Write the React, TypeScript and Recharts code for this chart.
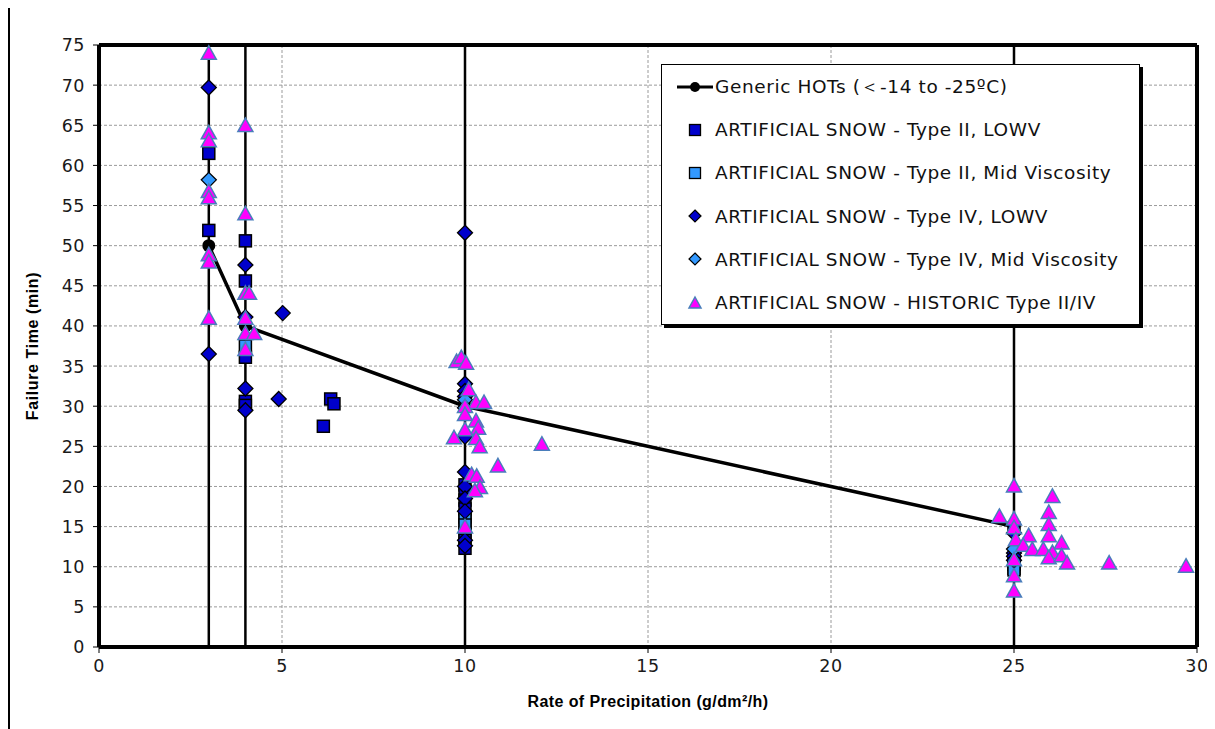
import { ScatterChart, Scatter, XAxis, YAxis, CartesianGrid, ReferenceLine } from "recharts";

// axis ticks and the fixed precipitation rates (heavy vertical lines)
const xTicks = [0, 5, 10, 15, 20, 25, 30];
const yTicks = [0, 5, 10, 15, 20, 25, 30, 35, 40, 45, 50, 55, 60, 65, 70, 75];
const rateLines = [3, 4, 10, 25];

// [rate g/dm²/h, failure time min]
const genericHots: [number, number][] = [
  [3, 50], [4, 40], [10, 30], [25, 15],
];

const typeIILowv: [number, number][] = [
  [3, 61.5], [3, 51.9], [4, 50.6], [4, 45.6], [4, 36.1], [4, 30.6], [4, 30.1],
  [6.13, 27.5], [6.33, 30.9], [6.42, 30.3],
  [10, 20.2], [10, 19.2], [10, 18.3], [10, 17.2], [10, 15.8], [10, 14.2], [10, 13.3], [10, 12.3],
  [25, 14.8], [25, 11], [25, 10.3], [25, 9.8],
];

const typeIIMid: [number, number][] = [
  [4, 37.5], [10, 16.2], [10, 15.2], [25, 9.6],
];

const typeIVLowv: [number, number][] = [
  [3, 69.7], [3, 36.5], [4, 47.6], [4, 41.1], [4, 32.2], [4, 29.5], [4.91, 30.9], [5.02, 41.6],
  [10, 51.6], [10, 32.8], [10, 31.9], [10, 31.2], [10, 26.2], [10, 21.8], [10, 20], [10, 18.5],
  [10, 16.9], [10, 13.3], [10, 12.6],
  [25, 14.2], [25, 11.7], [25, 11.3], [25, 10.8],
];

const typeIVMid: [number, number][] = [
  [3, 58.2], [10, 30.8], [10, 29.8], [25, 12.2],
];

const historic: [number, number][] = [
  [3, 73.9], [3, 64], [3, 63], [3, 56.7], [3, 55.9], [3, 48.8], [3, 47.9], [3, 40.9],
  [4, 64.9], [4, 53.9], [4, 44], [4.1, 44], [4, 40.9], [4, 39], [4.24, 39], [4, 37],
  [9.77, 35.5], [9.9, 36], [10.03, 35.3], [10.1, 32], [10.3, 30.4], [10.52, 30.4], [10, 29.9],
  [10, 28.9], [10.3, 28.1], [10.36, 27.2], [10, 27], [9.7, 26], [10.3, 25.9], [10.4, 24.9],
  [12.1, 25.2], [10.9, 22.5], [10.18, 21.4], [10.32, 21.2], [10.41, 19.8], [10.27, 19.4], [10, 14.9],
  [25, 20], [26.05, 18.7], [24.6, 16.2], [25, 15.9], [25.95, 16.7], [25.95, 15.2], [25.95, 13.8],
  [25, 14.8], [25.05, 13.3], [25.4, 13.8], [25.25, 12.6], [25.5, 12.1], [25.8, 12.1], [26.3, 12.9],
  [26.05, 11.7], [25.95, 11.05], [26.3, 11.3], [26.45, 10.4], [27.6, 10.4], [29.7, 10],
  [25, 10.8], [25, 8.8], [25, 6.9],
];

const DARK = "#0000CC";
const LIGHT = "#3399FF";
const PINK = "#FF00FF";
const TRI_EDGE = "#4A7EBB";
const FONT = "Liberation Sans, Arial, sans-serif";
const WIDE_FONT = "DejaVu Sans, Verdana, sans-serif";

const toPoints = (pairs: [number, number][]) => pairs.map(([x, y]) => ({ x, y }));

const squareShape = (fill: string) => (p: any) => (
  <rect x={p.cx - 6} y={p.cy - 6} width={12} height={12} fill={fill} stroke="#000" strokeWidth={1.5} />
);

const diamondShape = (fill: string) => (p: any) => (
  <polygon
    points={`${p.cx},${p.cy - 7.5} ${p.cx + 7.5},${p.cy} ${p.cx},${p.cy + 7.5} ${p.cx - 7.5},${p.cy}`}
    fill={fill}
    stroke="#000"
    strokeWidth={1.3}
  />
);

const triangleShape = (p: any) => (
  <polygon
    points={`${p.cx},${p.cy - 8} ${p.cx + 7.5},${p.cy + 5.5} ${p.cx - 7.5},${p.cy + 5.5}`}
    fill={PINK}
    stroke={TRI_EDGE}
    strokeWidth={1.5}
  />
);

const circleShape = (p: any) => <circle cx={p.cx} cy={p.cy} r={6.5} fill="#000" />;

const tickText = { fill: "#1a1a1a", fontSize: 17.5, letterSpacing: 0.5, fontFamily: WIDE_FONT };

const xTick = (p: any) => (
  <text x={p.x} y={p.y} dy="0.74em" textAnchor="middle" {...tickText}>
    {p.payload.value}
  </text>
);

const yTick = (p: any) => (
  <text x={p.x} y={p.y} dy="0.37em" textAnchor="end" {...tickText}>
    {p.payload.value}
  </text>
);

const legendRows = [
  { label: "Generic HOTs (＜-14 to -25ºC)", icon: "line" },
  { label: "ARTIFICIAL SNOW - Type II, LOWV", icon: "square", color: DARK },
  { label: "ARTIFICIAL SNOW - Type II, Mid Viscosity", icon: "square", color: LIGHT },
  { label: "ARTIFICIAL SNOW - Type IV, LOWV", icon: "diamond", color: DARK },
  { label: "ARTIFICIAL SNOW - Type IV, Mid Viscosity", icon: "diamond", color: LIGHT },
  { label: "ARTIFICIAL SNOW - HISTORIC Type II/IV", icon: "triangle" },
];

function LegendIcon({ icon, color }: { icon: string; color?: string }) {
  return (
    <svg width={36} height={16} style={{ flexShrink: 0 }}>
      {icon === "line" && (
        <>
          <line x1={0} y1={8} x2={36} y2={8} stroke="#000" strokeWidth={3} />
          <circle cx={18} cy={8} r={5} fill="#000" />
        </>
      )}
      {icon === "square" && <rect x={12.5} y={2.5} width={11} height={11} fill={color} stroke="#000" strokeWidth={1.3} />}
      {icon === "diamond" && <polygon points="18,2 24,8 18,14 12,8" fill={color} stroke="#000" strokeWidth={1.2} />}
      {icon === "triangle" && <polygon points="18,2 24,13 12,13" fill={PINK} stroke={TRI_EDGE} strokeWidth={1.5} />}
    </svg>
  );
}

export default function App() {
  return (
    <div style={{ position: "relative", top: -3, width: 1207, height: 724, background: "#fff" }}>
      <style>{`body{overflow:hidden}`}</style>
      {/* outer frame of the original picture */}
      <div style={{ position: "absolute", left: 0, top: 0, width: 1207, height: 2, background: "#000" }} />
      <div style={{ position: "absolute", left: 0, top: 0, width: 2, height: 724, background: "#000" }} />
      <div style={{ position: "absolute", left: 2, top: 2 }}>
        <ScatterChart width={1205} height={712} margin={{ top: 38, right: 18, bottom: 32, left: 0 }}>
          <CartesianGrid stroke="#9a9a9a" strokeDasharray="3 2" />
          <XAxis
            type="number"
            dataKey="x"
            domain={[0, 30]}
            ticks={xTicks}
            height={40}
            axisLine={false}
            tickLine={{ stroke: "#000" }}
            tickSize={6}
            tickMargin={6}
            tick={xTick}
            label={{
              value: "Rate of Precipitation (g/dm²/h)",
              position: "bottom",
              offset: 9,
              style: { fontWeight: "bold", fontSize: 16, letterSpacing: 0.4, fill: "#000", fontFamily: FONT },
            }}
          />
          <YAxis
            type="number"
            dataKey="y"
            domain={[0, 75]}
            ticks={yTicks}
            width={89}
            axisLine={false}
            tickLine={{ stroke: "#000" }}
            tickSize={6}
            tickMargin={8}
            tick={yTick}
            label={{
              value: "Failure Time (min)",
              angle: -90,
              position: "insideLeft",
              offset: 22,
              style: {
                textAnchor: "middle",
                fontWeight: "bold",
                fontSize: 16,
                letterSpacing: 0.6,
                fill: "#000",
                fontFamily: FONT,
              },
            }}
          />
          {rateLines.map((r) => (
            <ReferenceLine key={r} x={r} stroke="#000" strokeWidth={2.5} />
          ))}
          <ReferenceLine x={0} stroke="#000" strokeWidth={4} />
          <ReferenceLine x={30} stroke="#000" strokeWidth={4} />
          <ReferenceLine y={0} stroke="#000" strokeWidth={4} />
          <ReferenceLine y={75} stroke="#000" strokeWidth={4} />
          <Scatter
            name="Generic HOTs"
            data={toPoints(genericHots)}
            line={{ stroke: "#000", strokeWidth: 3.5 }}
            lineType="joint"
            shape={circleShape}
            isAnimationActive={false}
          />
          <Scatter name="Type II LOWV" data={toPoints(typeIILowv)} shape={squareShape(DARK)} isAnimationActive={false} />
          <Scatter name="Type II Mid" data={toPoints(typeIIMid)} shape={squareShape(LIGHT)} isAnimationActive={false} />
          <Scatter name="Type IV LOWV" data={toPoints(typeIVLowv)} shape={diamondShape(DARK)} isAnimationActive={false} />
          <Scatter name="Type IV Mid" data={toPoints(typeIVMid)} shape={diamondShape(LIGHT)} isAnimationActive={false} />
          <Scatter name="Historic" data={toPoints(historic)} shape={triangleShape} isAnimationActive={false} />
        </ScatterChart>
        <div
          style={{
            position: "absolute",
            left: 651,
            top: 57,
            width: 477,
            height: 259,
            border: "1px solid #000",
            background: "#fff",
            boxShadow: "3px 3px 0 #000",
            fontFamily: WIDE_FONT,
            fontSize: 18.5,
            letterSpacing: 0.6,
            color: "#111",
          }}
        >
          {legendRows.map((row) => (
            <div key={row.label} style={{ display: "flex", alignItems: "center", height: 43.2, paddingLeft: 15 }}>
              <LegendIcon icon={row.icon} color={row.color} />
              <span style={{ marginLeft: 2, whiteSpace: "nowrap" }}>{row.label}</span>
            </div>
          ))}
        </div>
      </div>
    </div>
  );
}
